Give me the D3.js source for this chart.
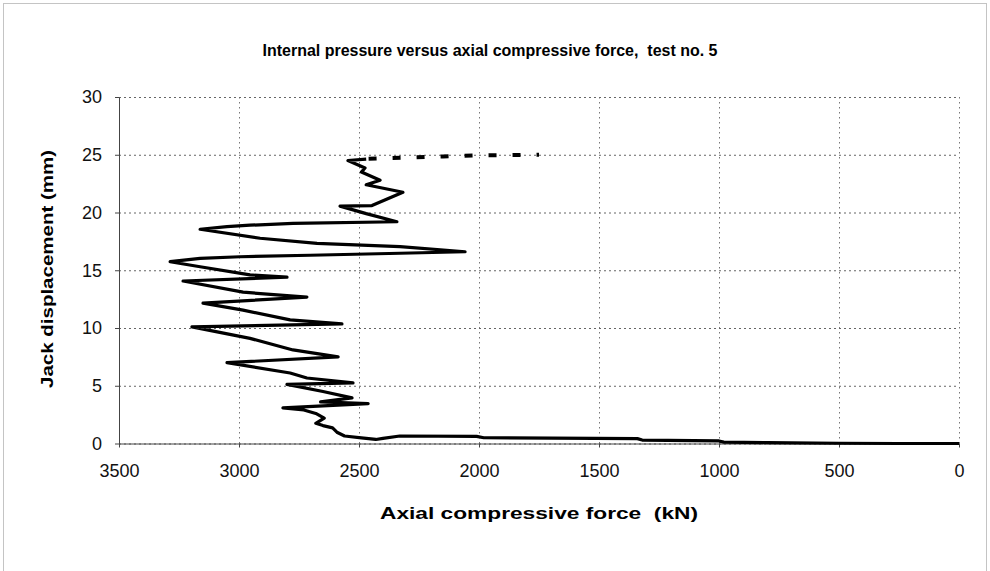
<!DOCTYPE html>
<html>
<head>
<meta charset="utf-8">
<script src="https://cdn.jsdelivr.net/npm/d3@7/dist/d3.min.js"></script>
<style>
  body { margin: 0; background: #fff; }
  svg { display: block; font-family: "Liberation Sans", Arial, sans-serif; }
</style>
</head>
<body>
<svg id="main-chart"></svg>
<script>
// tick values
const forceTicks = [3500, 3000, 2500, 2000, 1500, 1000, 500, 0];
const dispTicks = [0, 5, 10, 15, 20, 25, 30];

// measured curve (kN, mm), in test order
const force = [0, 250, 500, 800, 980, 1000, 1320, 1340, 1980, 2010, 2330, 2400, 2430, 2490, 2560,
  2590, 2610, 2650, 2680, 2645, 2680, 2730, 2817, 2462, 2660, 2529, 2650, 2800, 2525, 2717, 2787,
  3050, 2587, 2775, 2954, 3196, 2571, 2787, 2983, 3150, 2717, 2983, 3233, 2800, 2954, 3162, 3287,
  3162, 2996, 2704, 2329, 2058, 2329, 2675, 2912, 3162, 3050, 2954, 2775, 2342, 2470, 2579, 2446,
  2317, 2470, 2412, 2490, 2475, 2546, 2470];
const disp = [0, 0, 0.02, 0.08, 0.12, 0.22, 0.3, 0.42, 0.5, 0.62, 0.65, 0.45, 0.35, 0.48, 0.65,
  0.95, 1.35, 1.55, 1.75, 2.2, 2.6, 2.9, 3.08, 3.45, 3.6, 3.95, 4.5, 5.12, 5.25, 5.67, 6.1,
  7.0, 7.5, 8.1, 9.1, 10.1, 10.35, 10.7, 11.55, 12.15, 12.68, 13.1, 14.07, 14.4, 14.6, 15.3, 15.74,
  16.03, 16.17, 16.3, 16.47, 16.6, 17.04, 17.33, 17.77, 18.55, 18.77, 18.9, 19.06, 19.2, 19.9, 20.55, 20.6,
  21.75, 22.4, 22.8, 23.5, 23.85, 24.5, 24.62];

// last part, drawn dashed
const tailForce = [2460, 2300, 2150, 2000, 1750];
const tailDisp = [24.65, 24.75, 24.85, 24.95, 25.0];

const width = 990, height = 571;
const margin = {top: 97, right: 31, bottom: 127.5, left: 119};

const svg = d3.select("#main-chart")
  .attr("width", width)
  .attr("height", height);

// outer frame
svg.append("rect")
  .attr("x", 3.5).attr("y", 3.5)
  .attr("width", width - 7).attr("height", height + 10)
  .attr("fill", "none")
  .attr("stroke", "#888")
  .attr("stroke-dasharray", "1,1");

const x = d3.scaleLinear()
  .domain([3500, 0])
  .range([margin.left, width - margin.right]);
const y = d3.scaleLinear()
  .domain([0, 30])
  .range([height - margin.bottom, margin.top]);

// grid
svg.append("g")
  .attr("transform", `translate(0,${margin.top})`)
  .call(d3.axisTop(x).tickValues(forceTicks).tickSize(-(y(0) - y(30))).tickFormat(""))
  .call(g => g.select(".domain").remove())
  .call(g => g.selectAll("line")
    .attr("stroke", "#777")
    .attr("stroke-dasharray", "1.5,3.5"));

svg.append("g")
  .attr("transform", `translate(${margin.left},0)`)
  .call(d3.axisLeft(y).tickValues(dispTicks).tickSize(-(x(0) - x(3500))).tickFormat(""))
  .call(g => g.select(".domain").remove())
  .call(g => g.selectAll("line")
    .attr("stroke", "#666")
    .attr("stroke-dasharray", "2,3"));

// axes
svg.append("g")
  .attr("transform", `translate(0,${y(0)})`)
  .call(d3.axisBottom(x).tickValues(forceTicks).tickSize(4).tickSizeOuter(0)
    .tickPadding(17).tickFormat(d3.format("d")))
  .call(g => g.select(".domain").attr("stroke", "#444"))
  .call(g => g.selectAll(".tick line").attr("stroke", "#444"))
  .call(g => g.selectAll("text")
    .attr("font-size", "18px")
    .attr("font-family", "'Liberation Sans', Arial, sans-serif")
    .attr("fill", "#111"));

svg.append("g")
  .attr("transform", `translate(${margin.left},0)`)
  .call(d3.axisLeft(y).tickValues(dispTicks).tickSize(4).tickSizeOuter(0)
    .tickPadding(13).tickFormat(d3.format("d")))
  .call(g => g.select(".domain").attr("stroke", "#444"))
  .call(g => g.selectAll(".tick line").attr("stroke", "#444"))
  .call(g => g.selectAll("text")
    .attr("font-size", "18px")
    .attr("font-family", "'Liberation Sans', Arial, sans-serif")
    .attr("fill", "#111"));

// curve
const pts = force.map((f, i) => [f, disp[i]]);
const tail = tailForce.map((f, i) => [f, tailDisp[i]]);
const line = d3.line().x(d => x(d[0])).y(d => y(d[1]));

svg.append("path")
  .datum(pts)
  .attr("d", line)
  .attr("fill", "none")
  .attr("stroke", "#000")
  .attr("stroke-width", 3.2)
  .attr("stroke-linejoin", "round");

svg.append("path")
  .datum(tail)
  .attr("d", line)
  .attr("fill", "none")
  .attr("stroke", "#000")
  .attr("stroke-width", 4)
  .attr("stroke-dasharray", "8,16");

// titles
svg.append("text")
  .attr("x", 490).attr("y", 56)
  .attr("text-anchor", "middle")
  .attr("font-size", "17px")
  .attr("font-weight", "bold")
  .attr("textLength", 455)
  .attr("lengthAdjust", "spacingAndGlyphs")
  .style("white-space", "pre")
  .text("Internal pressure versus axial compressive force,  test no. 5");

svg.append("text")
  .attr("x", 539).attr("y", 519)
  .attr("text-anchor", "middle")
  .attr("font-size", "16px")
  .attr("font-weight", "bold")
  .attr("textLength", 318)
  .attr("lengthAdjust", "spacingAndGlyphs")
  .style("white-space", "pre")
  .text("Axial compressive force  (kN)");

svg.append("text")
  .attr("transform", "translate(53,269) rotate(-90)")
  .attr("text-anchor", "middle")
  .attr("font-size", "17px")
  .attr("font-weight", "bold")
  .attr("textLength", 238)
  .attr("lengthAdjust", "spacingAndGlyphs")
  .text("Jack displacement (mm)");
</script>
</body>
</html>
